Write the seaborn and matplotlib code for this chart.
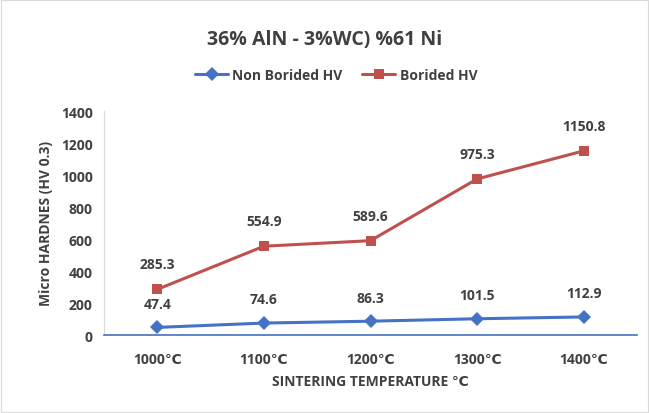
import matplotlib
matplotlib.use("Agg")
import matplotlib.pyplot as plt
import seaborn as sns
import pandas as pd
from matplotlib.lines import Line2D

categories = ["1000℃", "1100℃", "1200℃", "1300℃", "1400℃"]
non_borided = [47.4, 74.6, 86.3, 101.5, 112.9]
borided = [285.3, 554.9, 589.6, 975.3, 1150.8]
series_names = ["Non Borided HV", "Borided HV"]
yticks = [0, 200, 400, 600, 800, 1000, 1200, 1400]

sns.set_theme(style="white")
plt.rcParams['font.family'] = ['Open Sans', 'DejaVu Sans']

df = pd.DataFrame({
    "cat": categories * 2,
    "x": list(range(len(categories))) * 2,
    "val": non_borided + borided,
    "series": [series_names[0]] * 5 + [series_names[1]] * 5,
})

fig = plt.figure(figsize=(6.49, 4.14), dpi=100)
ax = fig.add_axes([104/649, 1-336/414, (637-104)/649, (336-112)/414])

palette = {series_names[0]: "#4472C4", series_names[1]: "#C0504D"}
markers = {series_names[0]: "D", series_names[1]: "s"}
sns.lineplot(data=df, x="x", y="val", hue="series", style="series",
             palette=palette, markers=markers, dashes=False, linewidth=2.2,
             markersize=7, markeredgewidth=0, ax=ax, legend=False)

# data labels
for i, v in enumerate(non_borided):
    ax.annotate(f"{v}", (i, v), xytext=(0, 12), textcoords="offset points",
                ha="center", va="bottom", fontsize=10, fontweight="bold", color="#404040")
for i, v in enumerate(borided):
    ax.annotate(f"{v}", (i, v), xytext=(0, 13), textcoords="offset points",
                ha="center", va="bottom", fontsize=10, fontweight="bold", color="#404040")

ax.set_xlim(-0.5, len(categories) - 0.5)
ax.set_ylim(0, 1400)
ax.set_yticks(yticks)
ax.set_yticklabels([str(t) for t in yticks], fontsize=10, fontweight="bold", color="#404040")
ax.set_xticks(range(len(categories)))
ax.set_xticklabels(categories, fontsize=10, fontweight="bold", color="#404040")
ax.tick_params(axis="both", length=0, pad=8)
ax.tick_params(axis="x", pad=12)

ax.set_xlabel("SINTERING TEMPERATURE ℃", fontsize=10, fontweight="bold", color="#404040", labelpad=6)
ax.set_ylabel("Micro HARDNES (HV 0.3)", fontsize=10, fontweight="bold", color="#404040", labelpad=6)

for s in ["top", "right"]:
    ax.spines[s].set_visible(False)
ax.spines["left"].set_color("#d9d9d9")
ax.spines["left"].set_linewidth(0.8)
ax.spines["bottom"].set_color("#4472C4")
ax.spines["bottom"].set_linewidth(1.2)

fig.text(0.5, 1-40/414, "36% AlN - 3%WC) %61 Ni", ha="center", va="center",
         fontsize=14, fontweight="bold", color="#404040")

handles = [Line2D([], [], color=palette[n], marker=markers[n], linewidth=2.2,
                  markersize=7, markeredgewidth=0) for n in series_names]
leg = fig.legend(handles, series_names, loc="center", bbox_to_anchor=(336/649, 1-76/414),
                 ncol=2, frameon=False, handlelength=2.4, handletextpad=0.3,
                 columnspacing=1.4, prop={"size": 10, "weight": "bold"})
for t in leg.get_texts():
    t.set_color("#404040")

fig.patches.append(plt.Rectangle((0.002, 0.002), 0.996, 0.996, transform=fig.transFigure,
                                 fill=False, edgecolor="#d9d9d9", linewidth=0.8))

fig.savefig("out.png", dpi=100)
